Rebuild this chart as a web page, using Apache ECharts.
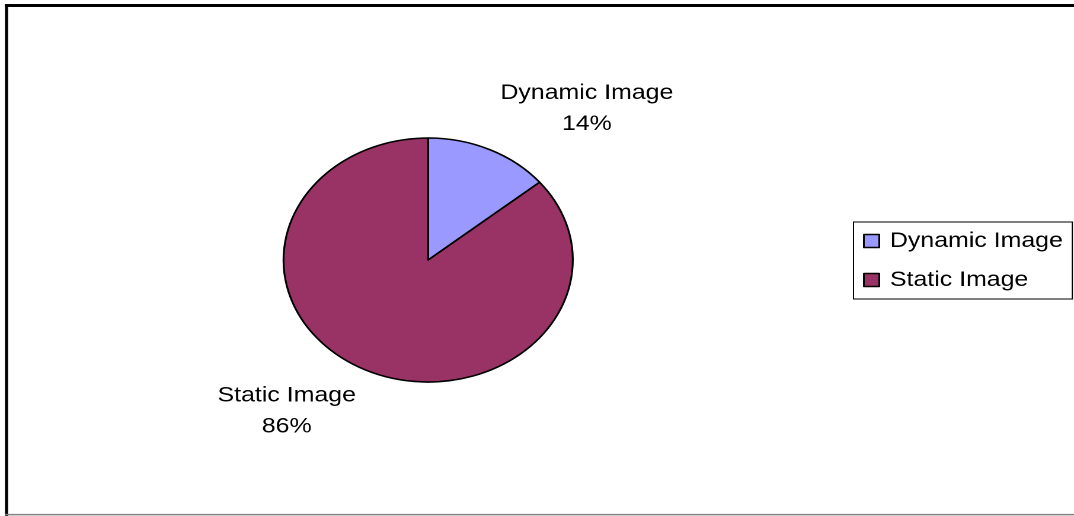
<!DOCTYPE html>
<html>
<head>
<meta charset="utf-8">
<script src="https://cdn.jsdelivr.net/npm/echarts@6/dist/echarts.min.js"></script>
<style>
  html, body { margin: 0; padding: 0; background: #fff; overflow: hidden; }
  #wrap { width: 1074px; height: 516px; overflow: hidden; }
  /* the chart is laid out on a narrower canvas and stretched horizontally */
  #chart { width: 906px; height: 516px; transform: scaleX(1.1854); transform-origin: 0 0; }
</style>
</head>
<body>
<div id="wrap"><div id="chart"></div></div>
<script>
// Share of image types
const categories = ['Dynamic Image', 'Static Image'];
const shares = [14, 86];
const sliceColors = ['#9999FF', '#993366'];

const CENTER = [361.2, 260];
const RADIUS = 122;
const START_ANGLE = 90;

const total = shares.reduce((a, b) => a + b, 0);

// Place each label box just beyond the rim, diagonally off the slice's mid point
function labelPlacement(idx, w, h) {
  let before = 0;
  for (let i = 0; i < idx; i++) before += shares[i];
  const mid = (START_ANGLE - (before + shares[idx] / 2) / total * 360) * Math.PI / 180;
  const c = Math.cos(mid), s = Math.sin(mid);
  const ex = CENTER[0] + RADIUS * c;
  const ey = CENTER[1] - RADIUS * s;
  const sx = c >= 0 ? 1 : -1;
  const sy = s >= 0 ? -1 : 1;
  return {
    x: ex + sx * (w / 2 + 9),
    y: ey + sy * (h / 2 + 10)
  };
}

const chart = echarts.init(document.getElementById('chart'), null, { renderer: 'canvas', devicePixelRatio: 2 });

const FONT = 'Liberation Sans, Arial, sans-serif';

chart.setOption({
  animation: false,
  backgroundColor: '#ffffff',
  color: sliceColors,
  legend: {
    orient: 'vertical',
    left: 720,
    top: 222,
    padding: [6, 8, 6, 8],
    itemGap: 13,
    itemWidth: 13,
    itemHeight: 13,
    icon: 'rect',
    borderColor: '#000000',
    borderWidth: 1,
    itemStyle: { borderColor: '#000000', borderWidth: 1.5 },
    textStyle: {
      fontFamily: FONT,
      fontSize: 21,
      color: '#000000',
      lineHeight: 26,
      padding: [0, 0, 0, 4]
    },
    data: categories
  },
  graphic: [
    { type: 'line', shape: { x1: 4, y1: 5.5, x2: 906, y2: 5.5 }, style: { stroke: '#000', lineWidth: 3 } },
    { type: 'line', shape: { x1: 5.5, y1: 4, x2: 5.5, y2: 516 }, style: { stroke: '#000', lineWidth: 2.6 } },
    { type: 'line', shape: { x1: 4, y1: 514.6, x2: 906, y2: 514.6 }, style: { stroke: '#808080', lineWidth: 1.5 } }
  ],
  series: [{
    type: 'pie',
    center: CENTER,
    radius: RADIUS,
    startAngle: START_ANGLE,
    clockwise: true,
    avoidLabelOverlap: false,
    itemStyle: { borderColor: '#000000', borderWidth: 1.6 },
    emphasis: { disabled: true },
    label: {
      show: true,
      position: 'outside',
      fontFamily: FONT,
      fontSize: 21,
      color: '#000000',
      lineHeight: 31,
      align: 'center',
      formatter: p => p.name + '\n' + Math.round(p.percent) + '%'
    },
    labelLine: { show: false },
    labelLayout: params => {
      const r = params.labelRect;
      const pos = labelPlacement(params.dataIndex, r.width, r.height);
      return { x: pos.x, y: pos.y, align: 'center', verticalAlign: 'middle' };
    },
    data: categories.map((name, i) => ({ name, value: shares[i] }))
  }]
});
</script>
</body>
</html>
